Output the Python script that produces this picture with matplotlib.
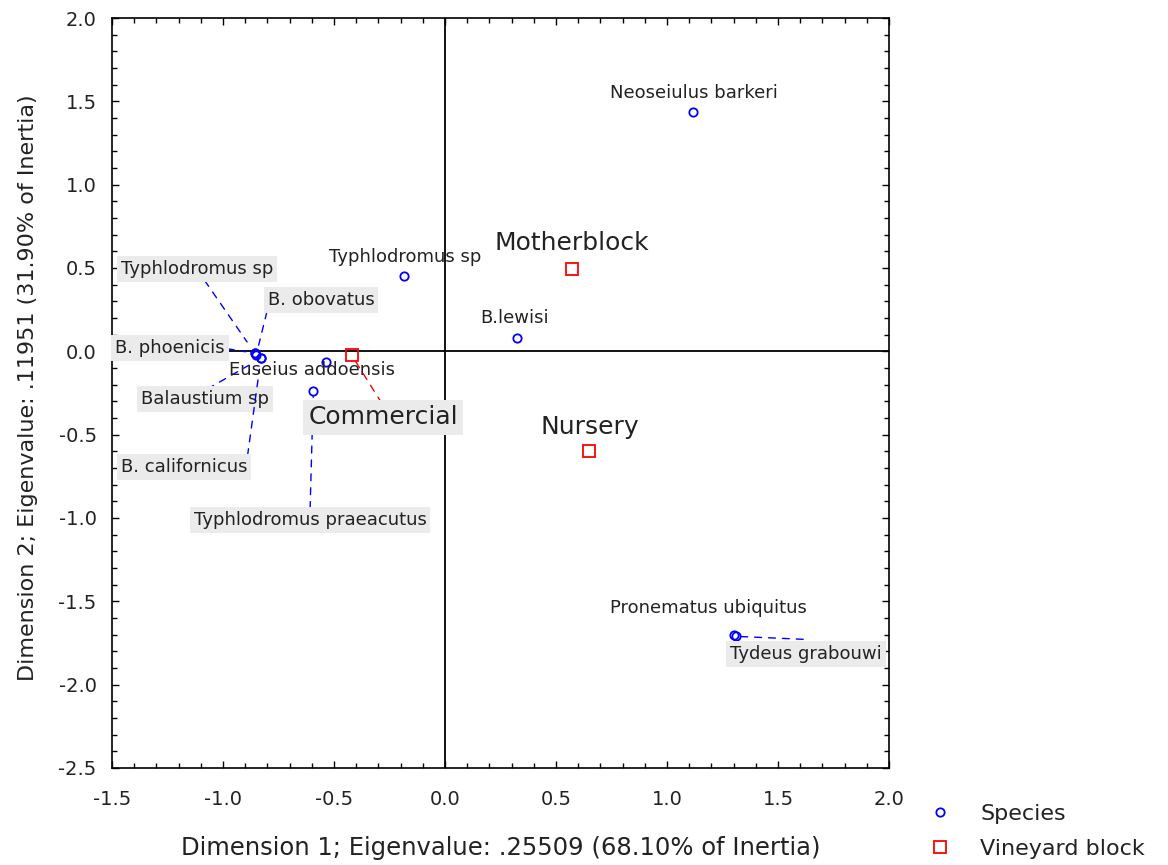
import matplotlib
matplotlib.use("Agg")
import matplotlib.pyplot as plt
from matplotlib.lines import Line2D
from matplotlib.ticker import MultipleLocator

# ---------------- data ----------------
species_names = ["Neoseiulus barkeri", "Typhlodromus sp", "B.lewisi",
                 "Pronematus ubiquitus", "Tydeus grabouwi", "Typhlodromus sp",
                 "B. obovatus", "B. phoenicis", "Balaustium sp", "B. californicus",
                 "Euseius addoensis", "Typhlodromus praeacutus"]
species_dim1 = [1.117, -0.185, 0.324, 1.300, 1.310, -0.856, -0.850, -0.856,
                -0.829, -0.829, -0.536, -0.593]
species_dim2 = [1.434, 0.450, 0.078, -1.700, -1.710, -0.012, -0.020, -0.012,
                -0.042, -0.042, -0.064, -0.238]

block_names = ["Motherblock", "Nursery", "Commercial"]
block_dim1 = [0.571, 0.650, -0.420]
block_dim2 = [0.492, -0.600, -0.024]

xticks = [-1.5, -1.0, -0.5, 0.0, 0.5, 1.0, 1.5, 2.0]
yticks = [-2.5, -2.0, -1.5, -1.0, -0.5, 0.0, 0.5, 1.0, 1.5, 2.0]
xlabel = "Dimension 1; Eigenvalue: .25509 (68.10% of Inertia)"
ylabel = "Dimension 2; Eigenvalue: .11951 (31.90% of Inertia)"
legend_labels = ["Species", "Vineyard block"]

# ---------------- layout (label placement) ----------------
# (text x, text y, boxed?, leader start relpos, leader end shrink)
species_label_pos = [
    (1.120, 1.548, False, None, 0),
    (-0.180, 0.564, False, None, 0),
    (0.315, 0.198, False, None, 0),
    (1.185, -1.542, False, None, 0),
    (1.626, -1.815, True, (0.5, 1.3), 3),
    (-1.117, 0.492, True, (0.54, 0.0), 10),
    (-0.559, 0.306, True, (0.0, 0.0), 7),
    (-1.239, 0.018, True, (1.0, 0.5), 7),
    (-1.081, -0.288, True, (0.5, 1.0), 10),
    (-1.176, -0.696, True, (1.0, 1.0), 8),
    (-0.599, -0.114, False, None, 0),
    (-0.608, -1.014, True, (0.5, 1.0), 4),
]
block_label_pos = [
    (0.572, 0.648, False, None, 0),
    (0.653, -0.456, False, None, 0),
    (-0.279, -0.396, True, (0.5, 1.0), 4),
]

FONT = "DejaVu Sans"
TXT = "#222222"
BOXC = "#ebebeb"
BLUE = "#0000ff"
RED = "#ff0000"

plt.rcParams["font.family"] = [FONT]

fig = plt.figure(figsize=(11.68, 8.65), dpi=100)
ax = fig.add_axes([112 / 1168, 1 - 768 / 865, 777 / 1168, 750 / 865])

ax.set_xlim(-1.5, 2.0)
ax.set_ylim(-2.5, 2.0)

ax.axhline(0, color="black", lw=1.3, zorder=1)
ax.axvline(0, color="black", lw=1.3, zorder=1)

ax.plot(species_dim1, species_dim2, linestyle="none", marker="o", ms=6,
        mfc="none", mec=BLUE, mew=1.3, zorder=4)
ax.plot(block_dim1, block_dim2, linestyle="none", marker="s", ms=8,
        mfc="none", mec=RED, mew=1.3, zorder=4)


def put_labels(names, xs, ys, positions, color, size):
    for name, x, y, (tx, ty, boxed, rel, shr) in zip(names, xs, ys, positions):
        kw = dict(fontsize=size, color=TXT, ha="center", va="center",
                  zorder=5)
        if boxed:
            kw["bbox"] = dict(boxstyle="square,pad=0.22", fc=BOXC, ec="none")
            ax.annotate(name, xy=(x, y), xytext=(tx, ty),
                        arrowprops=dict(arrowstyle="-", color=color,
                                        linestyle=(0, (5, 5)), lw=1.0,
                                        patchA=None, shrinkA=2, shrinkB=shr,
                                        relpos=rel),
                        **kw)
        else:
            ax.text(tx, ty, name, **kw)


put_labels(species_names, species_dim1, species_dim2, species_label_pos,
           BLUE, 13)
put_labels(block_names, block_dim1, block_dim2, block_label_pos, RED, 18)

ax.set_xticks(xticks)
ax.set_yticks(yticks)
ax.set_xticklabels([f"{v:.1f}" for v in xticks])
ax.set_yticklabels([f"{v:.1f}" for v in yticks])
ax.xaxis.set_minor_locator(MultipleLocator(0.1))
ax.yaxis.set_minor_locator(MultipleLocator(0.1))
ax.tick_params(which="both", direction="in", top=True, right=True,
               color="black", width=1.0)
ax.tick_params(which="major", length=5, labelsize=14, labelcolor=TXT)
ax.tick_params(which="minor", length=3.5)
ax.tick_params(axis="x", which="major", pad=16)
ax.tick_params(axis="y", which="major", pad=11)
for sp in ax.spines.values():
    sp.set_linewidth(1.2)

ax.set_xlabel(xlabel, fontsize=17.5, color=TXT)
ax.set_ylabel(ylabel, fontsize=16, color=TXT)
ax.xaxis.set_label_coords(0.5, -0.09)
ax.yaxis.set_label_coords(-0.095, 0.507)

handles = [
    Line2D([], [], linestyle="none", marker="o", ms=6, mfc="none", mec=BLUE, mew=1.3),
    Line2D([], [], linestyle="none", marker="s", ms=8, mfc="none", mec=RED, mew=1.3),
]
fig.legend(handles, legend_labels, loc="upper left",
           bbox_to_anchor=(918 / 1168, 1 - 795 / 865), frameon=False,
           fontsize=16, handlelength=1.2, handletextpad=1.2,
           labelspacing=0.66, borderaxespad=0, labelcolor=TXT)

fig.savefig("out.png", dpi=100)
